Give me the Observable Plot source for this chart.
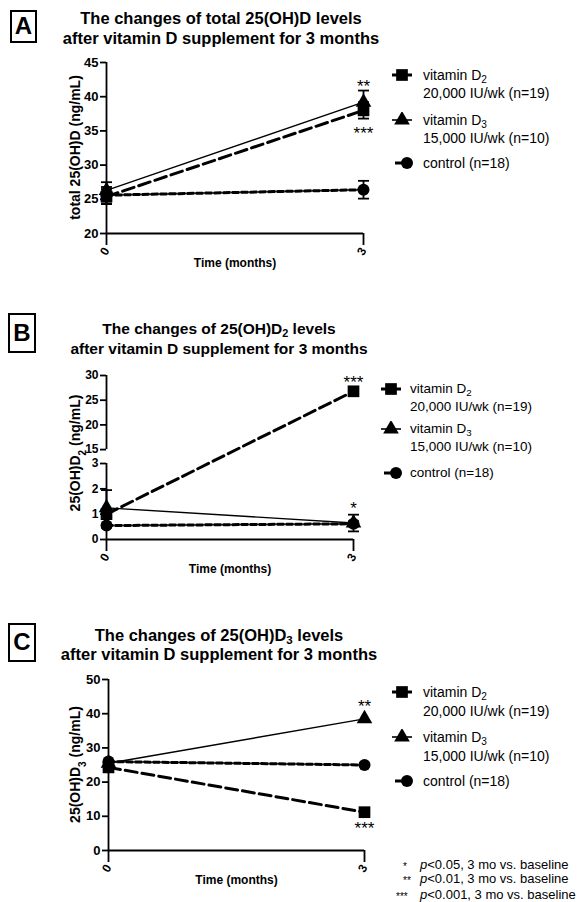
<!DOCTYPE html>
<html><head><meta charset="utf-8">
<script src="https://cdn.jsdelivr.net/npm/d3@7"></script>
<script src="https://cdn.jsdelivr.net/npm/@observablehq/plot@0.6"></script>
<style>
body{margin:0;background:#fff;font-family:Arial,"Liberation Sans",Helvetica,sans-serif;color:#000;}
#root{position:relative;width:579px;height:902px;overflow:hidden;}
#root svg.plotsvg{position:absolute;left:0;}
.title{position:absolute;font-weight:bold;text-align:center;white-space:nowrap;transform:translateX(-50%);z-index:2;}
.title sub{font-size:70%;vertical-align:-0.25em;line-height:0;}
.letter{position:absolute;box-sizing:border-box;border:2.5px solid #000;font-weight:bold;font-size:24px;text-align:center;z-index:2;}
.lg{position:absolute;white-space:nowrap;z-index:2;line-height:16px;}
.lg sub{font-size:72%;vertical-align:-0.3em;line-height:0;}
.sym{position:absolute;z-index:2;}
.fn{position:absolute;font-size:13px;white-space:nowrap;line-height:15px;z-index:2;}
</style>
</head><body><div id="root"></div>
<script>
// ---------------- data ----------------
const months = [0, 3];
const groupNames = ["vitamin D2", "vitamin D3", "control"];

// Panel A: total 25(OH)D (ng/mL), mean and SE
const totalD2Mean  = [25.4, 38.0];
const totalD2SE    = [1.1, 1.2];
const totalD3Mean  = [26.3, 39.2];
const totalD3SE    = [1.2, 1.7];
const totalCtlMean = [25.6, 26.4];
const totalCtlSE   = [1.2, 1.3];
const totalTicks   = [20, 25, 30, 35, 40, 45];

// Panel B: 25(OH)D2 (ng/mL), broken axis
const d2D2Mean  = [1.0, 26.8];
const d2D2SE    = [0.15, 0.6];
const d2D3Mean  = [1.25, 0.65];
const d2D3SE    = [0.7, 0.33];
const d2CtlMean = [0.55, 0.62];
const d2CtlSE   = [0.08, 0.1];
const d2Ticks   = [0, 1, 2, 3, 15, 20, 25, 30];
const d2Segments = [[0, 3], [15, 30]];

// Panel C: 25(OH)D3 (ng/mL)
const d3D2Mean  = [24.3, 11.2];
const d3D3Mean  = [25.5, 38.5];
const d3CtlMean = [26.0, 25.0];
const d3Ticks   = [0, 10, 20, 30, 40, 50];

// significance marks at 3 months
const sigA = [{group: "vitamin D3", label: "**", pos: "above"}, {group: "vitamin D2", label: "***", pos: "below"}];
const sigB = [{group: "vitamin D2", label: "***", pos: "above"}, {group: "vitamin D3", label: "*", pos: "above"}];
const sigC = [{group: "vitamin D3", label: "**", pos: "above"}, {group: "vitamin D2", label: "***", pos: "below"}];

const legendRows = [
  {group: "vitamin D2", name: "vitamin D", sub: "2", dose: "20,000 IU/wk (n=19)"},
  {group: "vitamin D3", name: "vitamin D", sub: "3", dose: "15,000 IU/wk (n=10)"},
  {group: "control", name: "control (n=18)", sub: "", dose: ""}
];
const footStars = ["*", "**", "***"];
const footTexts = ["<0.05, 3 mo vs. baseline", "<0.01, 3 mo vs. baseline", "<0.001, 3 mo vs. baseline"];

// ---------------- styles ----------------
const FONT = "Arial, 'Liberation Sans', Helvetica, sans-serif";
const AX = 1.8;
const gStyle = {
  "vitamin D2": {symbol: "square", r: 6.6, sw: 3, dash: "12,5"},
  "vitamin D3": {symbol: "triangle", r: 5.8, sw: 1.4, dash: null},
  "control":    {symbol: "circle", r: 6, sw: 3, dash: "6,3"}
};
const capSymbol = {draw(ctx) { ctx.moveTo(-5.5, 0); ctx.lineTo(5.5, 0); }};

// broken-axis mapping for panel B: lower segment 0–3 at full scale,
// a small gap, then the 15–30 segment compressed
const BREAK_GAP = 0.55, UPPER_K = 0.195;
function brk(v) {
  return v <= d2Segments[0][1] ? v : d2Segments[0][1] + BREAK_GAP + (v - d2Segments[1][0]) * UPPER_K;
}
const identity = v => v;

function buildRows(means, ses) {
  const rows = [];
  groupNames.forEach((g, gi) => {
    months.forEach((m, i) => {
      const mean = means[gi][i];
      const se = ses ? ses[gi][i] : null;
      rows.push({group: g, month: m, mean, lo: se == null ? mean : mean - se, hi: se == null ? mean : mean + se, hasErr: se != null});
    });
  });
  return rows;
}

const root = document.getElementById("root");

function panel(cfg) {
  const f = cfg.yMap || identity;
  const rows = buildRows(cfg.means, cfg.ses);
  const sigRows = cfg.sig.map(s => {
    const r = rows.find(d => d.group === s.group && d.month === months[1]);
    return {month: r.month, y: s.pos === "above" ? r.hi : r.lo, label: s.label, pos: s.pos};
  });
  const tickPos = cfg.yTicks.map(f);
  const marks = [
    Plot.ruleX(cfg.segments, {x: () => months[0], y1: d => f(d[0]), y2: d => f(d[1]), strokeWidth: AX}),
    Plot.ruleY([f(cfg.yTicks[0])], {x1: months[0], x2: months[1], strokeWidth: AX}),
    Plot.axisY({ticks: tickPos, tickFormat: v => cfg.yTicks[tickPos.findIndex(t => Math.abs(t - v) < 1e-9)],
      tickSize: 6, tickPadding: 2, fontSize: cfg.tickFont || 13, fontWeight: "bold", label: null, strokeWidth: AX}),
    Plot.axisX({ticks: months, tickFormat: d3.format("d"), tickSize: 12, tickRotate: -60, tickPadding: 3, fontSize: 12, fontWeight: "bold", label: null, strokeWidth: AX}),
    Plot.text(["Time (months)"], {text: d => d, frameAnchor: "bottom", dy: 33, fontSize: 12, fontWeight: "bold"})
  ];
  groupNames.forEach(g => {
    const st = gStyle[g];
    marks.push(Plot.line(rows.filter(d => d.group === g), {x: "month", y: d => f(d.mean), stroke: "black", strokeWidth: st.sw, strokeDasharray: st.dash || undefined}));
  });
  const err = rows.filter(d => d.hasErr);
  marks.push(Plot.ruleX(err, {x: "month", y1: d => f(d.lo), y2: d => f(d.hi), strokeWidth: AX}));
  marks.push(Plot.dot(err, {x: "month", y: d => f(d.hi), symbol: capSymbol, r: 3, stroke: "black", fill: "none", strokeWidth: AX}));
  marks.push(Plot.dot(err, {x: "month", y: d => f(d.lo), symbol: capSymbol, r: 3, stroke: "black", fill: "none", strokeWidth: AX}));
  groupNames.forEach(g => {
    const st = gStyle[g];
    marks.push(Plot.dot(rows.filter(d => d.group === g), {x: "month", y: d => f(d.mean), symbol: st.symbol, r: st.r, fill: "black", stroke: "none"}));
  });
  marks.push(Plot.text(sigRows.filter(d => d.pos === "above"), {x: "month", y: d => f(d.y), text: "label", dy: cfg.sigDyAbove, fontSize: 17}));
  marks.push(Plot.text(sigRows.filter(d => d.pos === "below"), {x: "month", y: d => f(d.y), text: "label", dy: cfg.sigDyBelow, fontSize: 17}));

  const svg = Plot.plot({
    width: 579, height: cfg.height,
    marginTop: cfg.mt, marginBottom: cfg.mb, marginLeft: cfg.ml, marginRight: cfg.mr,
    x: {domain: [months[0], months[1]]},
    y: {domain: [f(cfg.yTicks[0]), f(cfg.yTicks[cfg.yTicks.length - 1])]},
    style: {fontFamily: FONT, background: "transparent", overflow: "visible", color: "black"},
    marks
  });
  svg.classList.add("plotsvg");
  svg.style.top = cfg.top + "px";
  // y-axis label with subscript
  const cy = (cfg.mt + cfg.height - cfg.mb) / 2 + (cfg.labelShift || 0);
  const t = d3.select(svg).append("text")
    .attr("transform", `translate(80,${cy}) rotate(-90)`)
    .attr("text-anchor", "middle").attr("font-weight", "bold").attr("font-size", 14)
    .attr("font-family", FONT).attr("fill", "black");
  t.append("tspan").text(cfg.yLabel[0]);
  if (cfg.yLabel[1]) {
    t.append("tspan").attr("baseline-shift", "sub").attr("font-size", 10).text(cfg.yLabel[1]);
    t.append("tspan").text(cfg.yLabel[2]);
  }
  root.appendChild(svg);
}

function addTitle(html1, html2, cx, top, lh, fs) {
  const d = document.createElement("div");
  d.className = "title";
  d.style.left = cx + "px"; d.style.top = top + "px";
  d.style.lineHeight = lh + "px"; d.style.fontSize = fs + "px";
  d.innerHTML = html1 + "<br>" + html2;
  root.appendChild(d);
}
function addLetter(ch, x, y, w, h) {
  const d = document.createElement("div");
  d.className = "letter";
  Object.assign(d.style, {left: x + "px", top: y + "px", width: w + "px", height: h + "px", lineHeight: (h - 5) + "px"});
  d.textContent = ch;
  root.appendChild(d);
}
function symbolSvg(g) {
  const st = gStyle[g];
  const ns = "http://www.w3.org/2000/svg";
  const s = document.createElementNS(ns, "svg");
  s.setAttribute("width", 24); s.setAttribute("height", 16);
  const line = document.createElementNS(ns, "line");
  const cx = g === "control" ? 17 : 12;
  line.setAttribute("x1", g === "control" ? 5 : 2); line.setAttribute("x2", g === "control" ? cx : 22);
  line.setAttribute("y1", 8); line.setAttribute("y2", 8);
  line.setAttribute("stroke", "black"); line.setAttribute("stroke-width", g === "vitamin D3" ? 1.6 : 3);
  s.appendChild(line);
  const p = document.createElementNS(ns, "path");
  const type = {square: d3.symbolSquare, triangle: d3.symbolTriangle, circle: d3.symbolCircle}[st.symbol];
  p.setAttribute("d", d3.symbol(type, Math.PI * st.r * st.r)());
  p.setAttribute("transform", `translate(${cx},8)`);
  s.appendChild(p);
  return s;
}
function addLegend(symX, textX, ys, fs) {
  const idx = [[0, 1], [2, 3], [4]];
  legendRows.forEach((r, i) => {
    const yi = idx[i];
    const sv = symbolSvg(r.group);
    sv.classList.add("sym");
    sv.style.left = (symX - 12) + "px"; sv.style.top = (ys[yi[0]] - 8) + "px";
    root.appendChild(sv);
    const d = document.createElement("div");
    d.className = "lg"; d.style.fontSize = fs + "px";
    d.style.left = textX + "px"; d.style.top = (ys[yi[0]] - 8) + "px";
    d.innerHTML = r.name + (r.sub ? "<sub>" + r.sub + "</sub>" : "");
    root.appendChild(d);
    if (r.dose) {
      const e = document.createElement("div");
      e.className = "lg"; e.style.fontSize = fs + "px";
      e.style.left = textX + "px"; e.style.top = (ys[yi[1]] - 8) + "px";
      e.textContent = r.dose;
      root.appendChild(e);
    }
  });
}

// ---------------- panels ----------------
panel({
  means: [totalD2Mean, totalD3Mean, totalCtlMean], ses: [totalD2SE, totalD3SE, totalCtlSE],
  yTicks: totalTicks, segments: [[totalTicks[0], totalTicks[totalTicks.length - 1]]],
  top: 50, height: 230, mt: 12, mb: 47, ml: 106, mr: 216,
  sig: sigA, sigDyAbove: -4, sigDyBelow: 15,
  yLabel: ["total 25(OH)D (ng/mL)"]
});
panel({
  means: [d2D2Mean, d2D3Mean, d2CtlMean], ses: [d2D2SE, d2D3SE, d2CtlSE],
  yMap: brk, yTicks: d2Ticks, segments: d2Segments, tickFont: 12,
  top: 360, height: 230, mt: 15, mb: 51, ml: 106, mr: 226,
  sig: sigB, sigDyAbove: -6, sigDyBelow: 13, labelShift: -4,
  yLabel: ["25(OH)D", "2", " (ng/mL)"]
});
panel({
  means: [d3D2Mean, d3D3Mean, d3CtlMean], ses: null,
  yTicks: d3Ticks, segments: [[d3Ticks[0], d3Ticks[d3Ticks.length - 1]]],
  top: 665, height: 235, mt: 14, mb: 50, ml: 108, mr: 215,
  sig: sigC, sigDyAbove: -12, sigDyBelow: 16,
  yLabel: ["25(OH)D", "3", " (ng/mL)"]
});

// ---------------- titles, letters, legends ----------------
addTitle("The changes of total 25(OH)D levels", "after vitamin D supplement for 3 months", 221, 8, 20, 16.5);
addTitle("The changes of 25(OH)D<sub>2</sub> levels", "after vitamin D supplement for 3 months", 219, 319, 20, 15.5);
addTitle("The changes of 25(OH)D<sub>3</sub> levels", "after vitamin D supplement for 3 months", 219, 626, 18.5, 16.5);
addLetter("A", 10, 10, 27, 33);
addLetter("B", 8, 313, 28, 40);
addLetter("C", 8, 623, 28, 39);
addLegend(402, 423, [75, 93, 120, 138, 163], 14);
addLegend(391, 410, [389, 407, 429, 447, 473], 13.5);
addLegend(402, 423, [692, 711, 737, 756, 781], 14);

footStars.forEach((s, i) => {
  const y = [865, 879, 895][i];
  const a = document.createElement("div");
  a.className = "fn"; a.style.left = (i === 2 ? 396 : 403) + "px"; a.style.top = (y - 6) + "px";
  a.style.fontSize = "10px"; a.textContent = s;
  root.appendChild(a);
  const b = document.createElement("div");
  b.className = "fn"; b.style.left = "420px"; b.style.top = (y - 8) + "px";
  b.innerHTML = "<i>p</i>" + footTexts[i].replace("<", "&lt;");
  root.appendChild(b);
});
</script>
</body></html>
